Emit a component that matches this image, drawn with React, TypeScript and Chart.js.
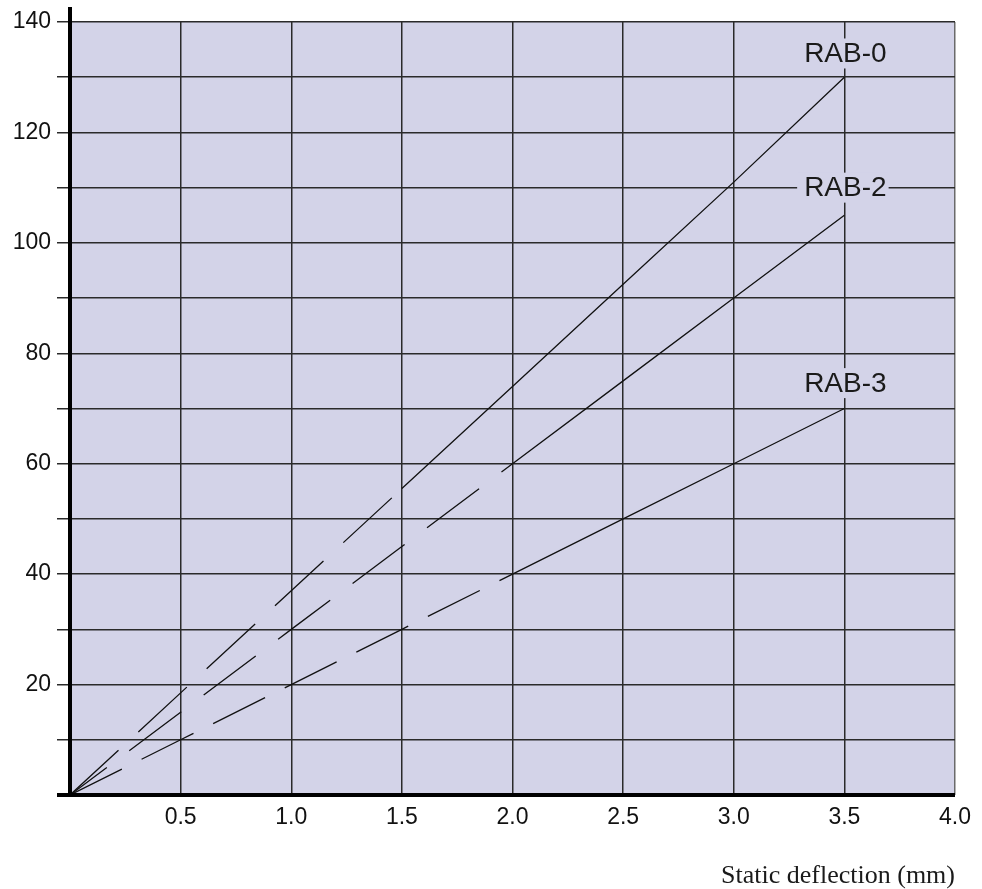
import React, { useEffect, useRef } from "react";
import { Chart, registerables } from "chart.js";

Chart.register(...registerables);

// Data
const deflection = [0, 0.5, 1.0, 1.5, 2.0, 2.5, 3.0, 3.5];
const rab0 = [0, 18.5, 37, 55.5, 74, 92.5, 111, 130];
const rab2 = [0, 15, 30, 45, 60, 75, 90, 105];
const rab3 = [0, 10, 20, 30, 40, 50, 60, 70];
const seriesNames = ["RAB-0", "RAB-2", "RAB-3"];
// last data index up to which each curve is drawn dashed
const dashedUntil = [3, 4, 4];
// label anchor positions (data units)
const labelX = [3.5, 3.5, 3.5];
const labelY = [134.3, 110, 74.6];
const xTicks = [0.5, 1.0, 1.5, 2.0, 2.5, 3.0, 3.5, 4.0];
const yTickLabels = [20, 40, 60, 80, 100, 120, 140];
const xTitle = "Static deflection (mm)";

const PLOT_BG = "#d3d3e8";
const GRID = "#2a2a2a";
const SANS = '"Liberation Sans", Arial, Helvetica, sans-serif';

export default function App() {
  const ref = useRef<HTMLCanvasElement | null>(null);

  useEffect(() => {
    const canvas = ref.current;
    if (!canvas) return;
    const seriesValues = [rab0, rab2, rab3];
    const dashes = [
      { dash: [66, 27], offset: 0 },
      { dash: [65, 28], offset: 19 },
      { dash: [58, 22], offset: 0 },
    ];

    const datasets = seriesValues.map((vals, si) => ({
      label: seriesNames[si],
      data: deflection.map((x, i) => ({ x, y: vals[i] })),
      borderColor: "#111",
      borderWidth: 1.3,
      pointRadius: 0,
      tension: 0,
      fill: false,
      borderDash: [] as number[],
      segment: {
        borderDash: (ctx: any) =>
          ctx.p1DataIndex <= dashedUntil[si] ? dashes[si].dash : undefined,
        borderDashOffset: (ctx: any) =>
          ctx.p1DataIndex <= dashedUntil[si] ? dashes[si].offset : undefined,
      },
    }));

    const bgPlugin = {
      id: "plotBg",
      beforeDraw(chart: any) {
        const { ctx, chartArea } = chart;
        ctx.save();
        ctx.fillStyle = PLOT_BG;
        ctx.fillRect(
          chartArea.left,
          chartArea.top,
          chartArea.right - chartArea.left,
          chartArea.bottom - chartArea.top
        );
        ctx.restore();
      },
    };

    const overlayPlugin = {
      id: "overlay",
      afterDatasetsDraw(chart: any) {
        const { ctx, chartArea, scales } = chart;
        const xs = scales.x;
        const ys = scales.y;
        ctx.save();
        // series labels with plot-coloured backing
        ctx.font = `28px ${SANS}`;
        ctx.textAlign = "center";
        ctx.textBaseline = "middle";
        seriesNames.forEach((name, i) => {
          const px = xs.getPixelForValue(labelX[i]);
          const py = ys.getPixelForValue(labelY[i]);
          const w = ctx.measureText(name).width;
          ctx.fillStyle = PLOT_BG;
          ctx.fillRect(px - w / 2 - 6, py - 15, w + 9, 30);
          ctx.fillStyle = "#1a1a1a";
          ctx.fillText(name, px + 1, py + 1);
        });
        // thick axes
        ctx.strokeStyle = "#000";
        ctx.lineWidth = 4;
        ctx.beginPath();
        ctx.moveTo(chartArea.left, chartArea.top - 15);
        ctx.lineTo(chartArea.left, chartArea.bottom + 2);
        ctx.stroke();
        ctx.beginPath();
        ctx.moveTo(chartArea.left - 13, chartArea.bottom);
        ctx.lineTo(chartArea.right, chartArea.bottom);
        ctx.stroke();
        // axis title
        ctx.font = `26px "Liberation Serif", "DejaVu Serif", serif`;
        ctx.textAlign = "right";
        ctx.textBaseline = "alphabetic";
        ctx.fillStyle = "#1a1a1a";
        ctx.fillText(xTitle, chartArea.right, 883);
        ctx.restore();
      },
    };

    const chart = new Chart(canvas, {
      type: "line",
      data: { datasets: datasets as any },
      options: {
        animation: false,
        responsive: false,
        maintainAspectRatio: false,
        devicePixelRatio: 1,
        layout: { padding: { top: 22, right: 27, left: 0, bottom: 0 } },
        plugins: {
          legend: { display: false },
          tooltip: { enabled: false },
          title: { display: false },
        },
        scales: {
          x: {
            type: "linear",
            min: 0,
            max: 4,
            border: { display: false },
            grid: {
              drawTicks: false,
              color: (c: any) =>
                c.tick && c.tick.value === 4 ? "#6a6a6a" : GRID,
              lineWidth: 1.5,
            },
            ticks: {
              stepSize: 0.5,
              padding: 9,
              color: "#111",
              font: { family: SANS, size: 23 },
              maxRotation: 0,
              autoSkip: false,
              callback: (v: any) =>
                xTicks.includes(Number(v)) ? Number(v).toFixed(1) : "",
            },
            afterFit: (s: any) => {
              s.height = 94;
            },
          },
          y: {
            type: "linear",
            min: 0,
            max: 140,
            border: { display: false },
            grid: {
              color: GRID,
              lineWidth: 1.5,
              tickLength: 13,
            },
            ticks: {
              stepSize: 10,
              padding: 6,
              color: "#111",
              font: { family: SANS, size: 23 },
              autoSkip: false,
              callback: (v: any) =>
                yTickLabels.includes(Number(v)) ? String(v) : "",
            },
            afterFit: (s: any) => {
              s.width = 70;
            },
          },
        },
      },
      plugins: [bgPlugin, overlayPlugin],
    });

    return () => chart.destroy();
  }, []);

  return (
    <div style={{ position: "fixed", left: 0, top: 0, width: 982, height: 889, background: "#fff" }}>
      <canvas ref={ref} width={982} height={889} style={{ width: 982, height: 889, display: "block" }} />
    </div>
  );
}
